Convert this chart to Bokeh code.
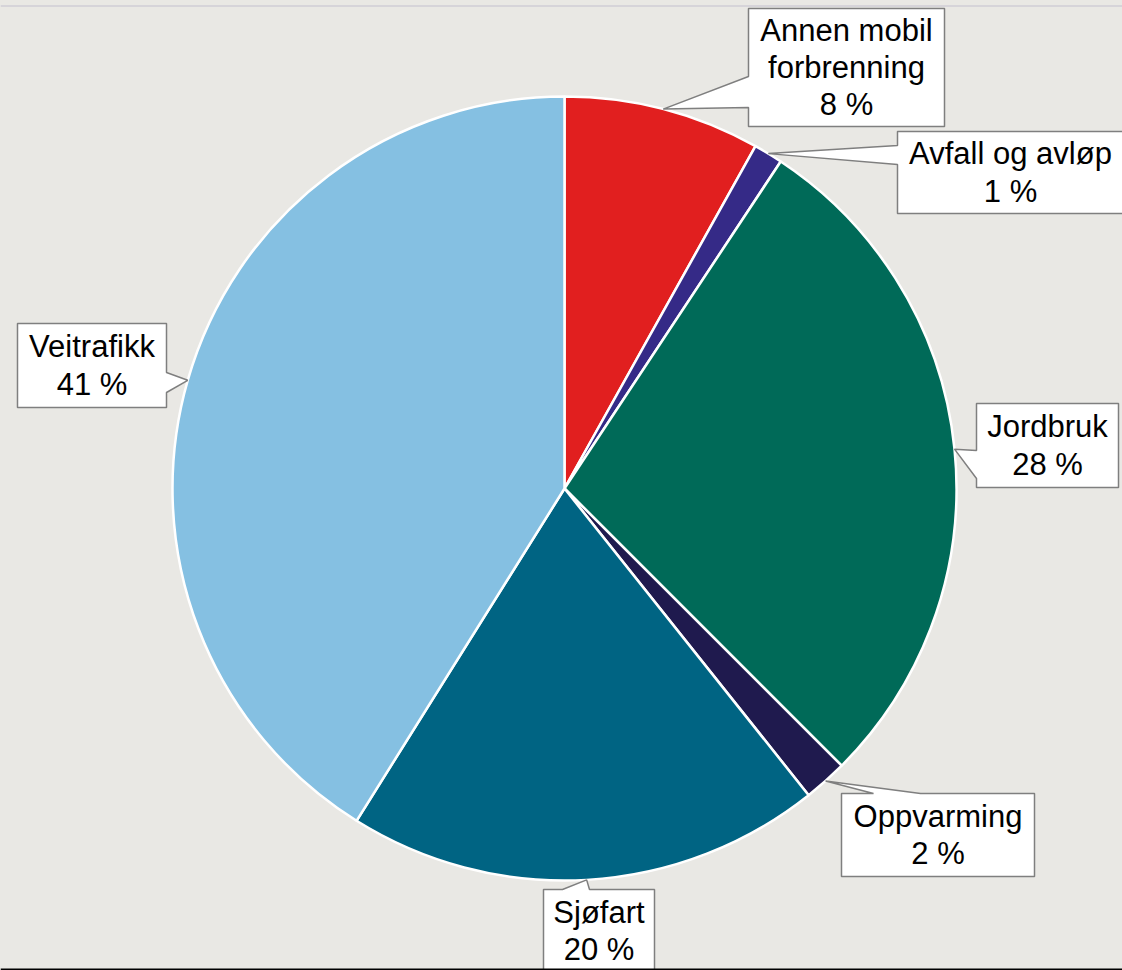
import math
from bokeh.plotting import figure
from bokeh.models import Range1d, Span, ColumnDataSource
from bokeh.core.properties import value
from bokeh.embed import file_html
from bokeh.resources import INLINE

# ---- data ----
categories = ["Annen mobil\nforbrenning", "Avfall og avløp", "Jordbruk",
              "Oppvarming", "Sjøfart", "Veitrafikk"]
shares = [8.1, 1.2, 28.2, 1.8, 19.6, 41.1]
colors = ["#E11F1F", "#352A87", "#006A58", "#1F1A4E", "#006483", "#85C0E2"]

# ---- layout ----
W, H = 1122, 970
CX, CY, R = 564, 488, 392          # pixel centre / radius of pie
BG = "#E9E8E4"

def Y(py):
    return H - py

# label boxes (pixel l, t, r, b), pointer side, pointer base positions
callouts = [
    ("left", (748, 8, 944, 126), (76, 107)),
    ("left", (897, 131, 1123, 213), (145, 164)),
    ("left", (976, 403, 1118, 487), (450, 478)),
    ("top", (841, 793, 1034, 876), (873, 920)),
    ("top", (543, 889, 654, 972), (562, 589)),
    ("right", (17, 323, 166, 407), (372, 392)),
]

p = figure(width=W, height=H, output_backend="svg", toolbar_location=None,
           x_range=Range1d(0, W), y_range=Range1d(0, H),
           x_axis_type=None, y_axis_type=None,
           min_border=0, min_border_left=0, min_border_right=0,
           min_border_top=0, min_border_bottom=0)
p.background_fill_color = BG
p.border_fill_color = BG
p.outline_line_color = None
p.grid.visible = False
p.styles = {"position": "absolute", "left": "0px", "top": "0px",
            "background-color": BG}

total = sum(shares)
fracs = [s / total for s in shares]
cum = [0.0]
for f in fracs:
    cum.append(cum[-1] + f)

starts = [math.pi / 2 - 2 * math.pi * cum[i + 1] for i in range(len(fracs))]
ends = [math.pi / 2 - 2 * math.pi * cum[i] for i in range(len(fracs))]
src = ColumnDataSource(dict(start=starts, end=ends, color=colors))
p.wedge(x=CX, y=Y(CY), radius=R, start_angle="start", end_angle="end",
        fill_color="color", line_color="white", line_width=2.5, source=src)

# callouts
xs, ys, tx, ty, labels = [], [], [], [], []
for i, (side, (l, t, r, b), base) in enumerate(callouts):
    mid = 2 * math.pi * (cum[i] + cum[i + 1]) / 2
    tipx = CX + R * math.sin(mid)
    tipy = CY - R * math.cos(mid)
    if side == "left":
        pts = [(l, t), (r, t), (r, b), (l, b), (l, base[1]), (tipx, tipy), (l, base[0])]
    elif side == "top":
        pts = [(l, t), (base[0], t), (tipx, tipy), (base[1], t), (r, t), (r, b), (l, b)]
    else:
        pts = [(l, t), (r, t), (r, base[0]), (tipx, tipy), (r, base[1]), (r, b), (l, b)]
    xs.append([q[0] for q in pts])
    ys.append([Y(q[1]) for q in pts])
    tx.append((l + r) / 2)
    ty.append(Y((t + b) / 2))
    labels.append(f"{categories[i]}\n{round(shares[i] / total * 100)} %")

p.patches(xs, ys, fill_color="white", line_color="#7F7F7F", line_width=1.5)
p.text(x=tx, y=ty, text=labels, text_align="center", text_baseline="middle",
       text_font=value("Liberation Sans"), text_font_size="31px",
       text_color="black", text_line_height=1.07)

p.add_layout(Span(location=Y(5.5), dimension="width", line_color="#D6D4D9", line_width=2))
p.add_layout(Span(location=Y(969), dimension="width", line_color="black", line_width=2))

open("out.html", "w").write(file_html(p, INLINE))
